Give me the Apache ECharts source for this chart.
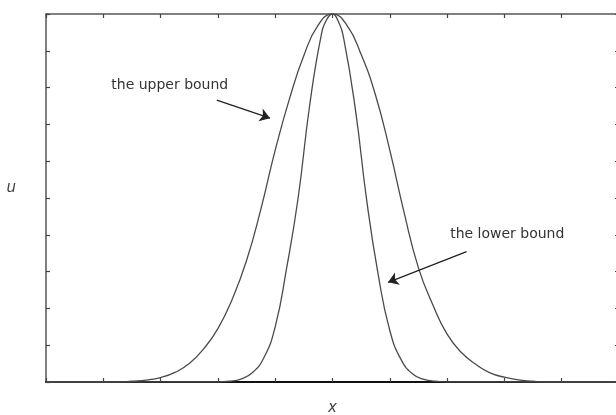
<!DOCTYPE html>
<html>
<head>
<meta charset="utf-8">
<script src="https://cdn.jsdelivr.net/npm/echarts@6/dist/echarts.min.js"></script>
<style>
  html, body { margin: 0; padding: 0; background: #fff; }
  #chart { width: 616px; height: 415px; }
</style>
</head>
<body>
<div id="chart"></div>
<script>
// values
const upperX = [-5, -3.75, -3.5, -3.25, -3, -2.75, -2.5, -2.25, -2, -1.75, -1.5, -1.25, -1, -0.75, -0.5, -0.25, 0,
                0.25, 0.5, 0.75, 1, 1.25, 1.5, 1.75, 2, 2.25, 2.5, 2.75, 3, 3.25, 3.5, 3.75, 5];
const upperU = [0, 0, 0.002, 0.005, 0.012, 0.026, 0.05, 0.09, 0.145, 0.225, 0.33, 0.47, 0.63, 0.77, 0.887, 0.97, 1,
                0.97, 0.89, 0.78, 0.63, 0.46, 0.31, 0.21, 0.13, 0.08, 0.048, 0.025, 0.013, 0.006, 0.002, 0, 0];
const lowerX = [-5, -2, -1.8, -1.6, -1.4, -1.2, -1, -0.8, -0.6, -0.4, -0.2, -0.1, 0,
                0.1, 0.2, 0.4, 0.6, 0.8, 1, 1.2, 1.4, 1.6, 1.8, 2, 5];
const lowerU = [0, 0, 0.002, 0.008, 0.025, 0.065, 0.15, 0.31, 0.5, 0.75, 0.94, 0.985, 1,
                0.98, 0.93, 0.74, 0.49, 0.29, 0.14, 0.06, 0.022, 0.007, 0.002, 0, 0];

// annotation anchors, in data units
const upperArrow = [[-2.02, 0.766], [-1.09, 0.717]];
const lowerArrow = [[2.34, 0.354], [0.97, 0.271]];
const upperLabel = [-2.84, 0.805];
const lowerLabel = [3.05, 0.40];

const chart = echarts.init(document.getElementById('chart'), null, { renderer: 'canvas' });

const frameAxis = (extra) => Object.assign({
  type: 'value',
  axisLine: { show: true, onZero: false, lineStyle: { color: '#555', width: 1.5 } },
  axisTick: { show: true, inside: true, length: 4, lineStyle: { color: '#444', width: 1.2 } },
  axisLabel: { show: false },
  splitLine: { show: false }
}, extra);

const xFrame = { min: -5, max: 5, interval: 1 };
const yFrame = { min: 0, max: 1, interval: 0.1 };

const lineStyle = { color: '#4a4a4a', width: 1.3 };
const textStyle = { color: '#333', fontSize: 14, fontFamily: 'DejaVu Sans' };

chart.setOption({
  backgroundColor: '#fff',
  animation: false,
  grid: { left: 46, top: 14, width: 573, height: 368, outerBoundsMode: 'none', containLabel: false },
  xAxis: [
    frameAxis(Object.assign({
      position: 'bottom',
      name: 'x', nameLocation: 'middle', nameGap: 19,
      nameTextStyle: { color: '#444', fontSize: 15, fontStyle: 'italic', fontFamily: 'DejaVu Sans' },
      axisLine: { show: true, onZero: false, lineStyle: { color: '#111', width: 2 } }
    }, xFrame)),
    frameAxis(Object.assign({ position: 'top' }, xFrame))
  ],
  yAxis: [
    frameAxis(Object.assign({
      position: 'left',
      name: 'u', nameLocation: 'middle', nameGap: 30, nameRotate: 0,
      nameTextStyle: { color: '#444', fontSize: 15, fontStyle: 'italic', fontFamily: 'DejaVu Sans',
                       verticalAlign: 'bottom', lineHeight: 20 }
    }, yFrame)),
    frameAxis(Object.assign({ position: 'right' }, yFrame))
  ],
  series: [
    {
      name: 'upper', type: 'line', smooth: true, showSymbol: false,
      data: upperX.map((x, i) => [x, upperU[i]]),
      lineStyle: lineStyle,
      markLine: {
        silent: true, symbol: ['none', 'arrow'], symbolSize: 10,
        lineStyle: { color: '#222', width: 1.3, type: 'solid' },
        label: { show: false },
        data: [[{ coord: upperArrow[0] }, { coord: upperArrow[1] }]]
      },
      markPoint: {
        silent: true, symbol: 'circle', symbolSize: 0,
        label: Object.assign({ show: true, position: 'inside', formatter: 'the upper bound' }, textStyle),
        data: [{ coord: upperLabel }]
      }
    },
    {
      name: 'lower', type: 'line', smooth: true, showSymbol: false,
      data: lowerX.map((x, i) => [x, lowerU[i]]),
      lineStyle: lineStyle,
      markLine: {
        silent: true, symbol: ['none', 'arrow'], symbolSize: 10,
        lineStyle: { color: '#222', width: 1.3, type: 'solid' },
        label: { show: false },
        data: [[{ coord: lowerArrow[0] }, { coord: lowerArrow[1] }]]
      },
      markPoint: {
        silent: true, symbol: 'circle', symbolSize: 0,
        label: Object.assign({ show: true, position: 'inside', formatter: 'the lower bound' }, textStyle),
        data: [{ coord: lowerLabel }]
      }
    }
  ]
});
</script>
</body>
</html>
